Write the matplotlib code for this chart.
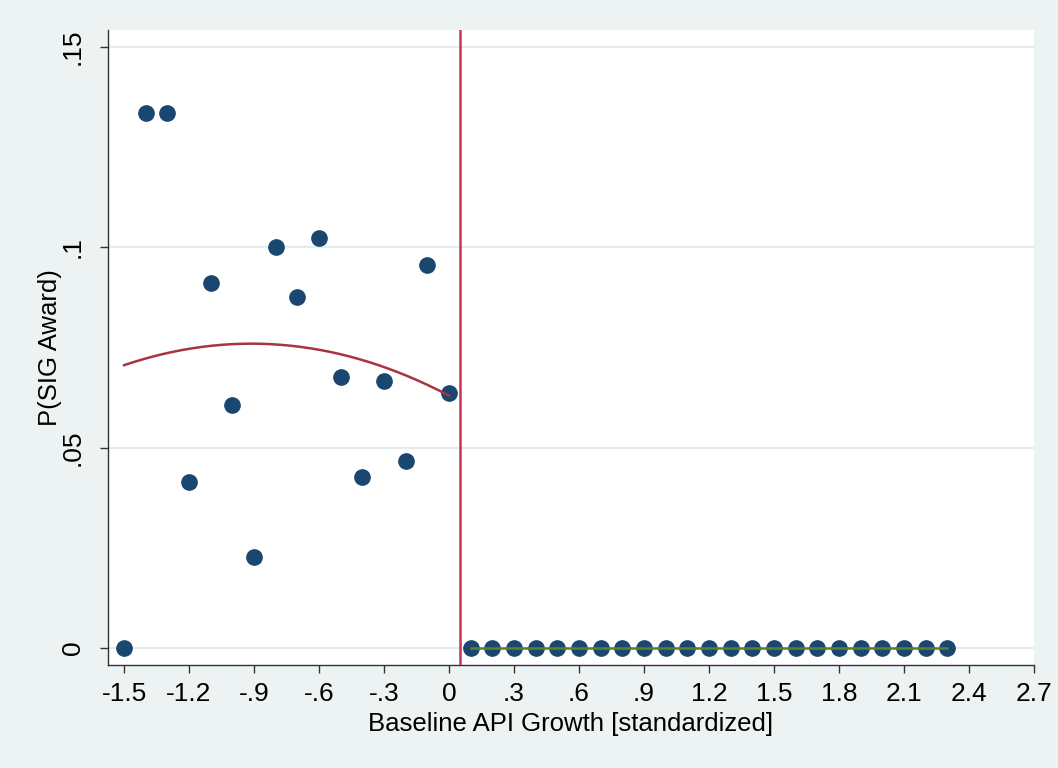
import numpy as np
import matplotlib.pyplot as plt

# binned P(SIG award) by standardized baseline API growth
x_left = [-1.5, -1.4, -1.3, -1.2, -1.1, -1.0, -0.9, -0.8,
          -0.7, -0.6, -0.5, -0.4, -0.3, -0.2, -0.1, 0.0]
y_left = [0.0, 0.1336, 0.1336, 0.0414, 0.0911, 0.0607, 0.0227, 0.1001,
          0.0876, 0.1023, 0.0677, 0.0427, 0.0667, 0.0467, 0.0956, 0.0637]
x_right = [0.1, 0.2, 0.3, 0.4, 0.5, 0.6, 0.7, 0.8, 0.9, 1.0, 1.1, 1.2,
           1.3, 1.4, 1.5, 1.6, 1.7, 1.8, 1.9, 2.0, 2.1, 2.2, 2.3]
y_right = [0.0] * len(x_right)
cutoff = 0.05

xticks = [-1.5, -1.2, -0.9, -0.6, -0.3, 0, 0.3, 0.6, 0.9, 1.2, 1.5, 1.8, 2.1, 2.4, 2.7]
xtick_labels = ["-1.5", "-1.2", "-.9", "-.6", "-.3", "0", ".3", ".6", ".9",
                "1.2", "1.5", "1.8", "2.1", "2.4", "2.7"]
yticks = [0, 0.05, 0.1, 0.15]
ytick_labels = ["0", ".05", ".1", ".15"]

NAVY = "#1A476F"
MAROON = "#A8343F"
CRANBERRY = "#C93355"
GREEN = "#5B7F2E"
BG = "#EDF3F3"

plt.rcParams["font.family"] = ["Liberation Sans", "DejaVu Sans"]

fig = plt.figure(figsize=(10.58, 7.68), dpi=100, facecolor=BG)
ax = fig.add_axes([0.1021, 0.1341, 0.8752, 0.8269])
ax.set_facecolor("white")

for yv in yticks:
    ax.axhline(yv, color="#E6ECEC", lw=1.6, zorder=0)

ax.plot(x_left, y_left, "o", color=NAVY, ms=11, zorder=3)
ax.plot(x_right, y_right, "o", color=NAVY, ms=11, zorder=3)

# quadratic fits on each side of the cutoff
xl = np.linspace(min(x_left), max(x_left), 200)
ax.plot(xl, np.polyval(np.polyfit(x_left, y_left, 2), xl), color=MAROON, lw=1.8, zorder=4)
xr = np.linspace(min(x_right), max(x_right), 200)
ax.plot(xr, np.polyval(np.polyfit(x_right, y_right, 2), xr), color=GREEN, lw=1.8, zorder=4)

ax.axvline(cutoff, color=CRANBERRY, lw=1.8, zorder=5)

ax.set_xlim(-1.574, 2.7)
ax.set_ylim(-0.00424, 0.1543)
ax.set_xticks(xticks)
ax.set_xticklabels(xtick_labels)
ax.set_yticks(yticks)
ax.set_yticklabels(ytick_labels, rotation=90, va="center")

for side in ("top", "right"):
    ax.spines[side].set_visible(False)
for side in ("left", "bottom"):
    ax.spines[side].set_color("#333333")
    ax.spines[side].set_linewidth(1.0)
ax.tick_params(direction="out", length=5.5, width=1, color="#333333", labelsize=19)
ax.tick_params(axis="x", pad=7)
ax.tick_params(axis="y", pad=11)

ax.set_xlabel("Baseline API Growth [standardized]", fontsize=18.5, labelpad=4)
ax.set_ylabel("P(SIG Award)", fontsize=18.5, labelpad=-1)

fig.savefig("out.png", dpi=100, facecolor=BG)
